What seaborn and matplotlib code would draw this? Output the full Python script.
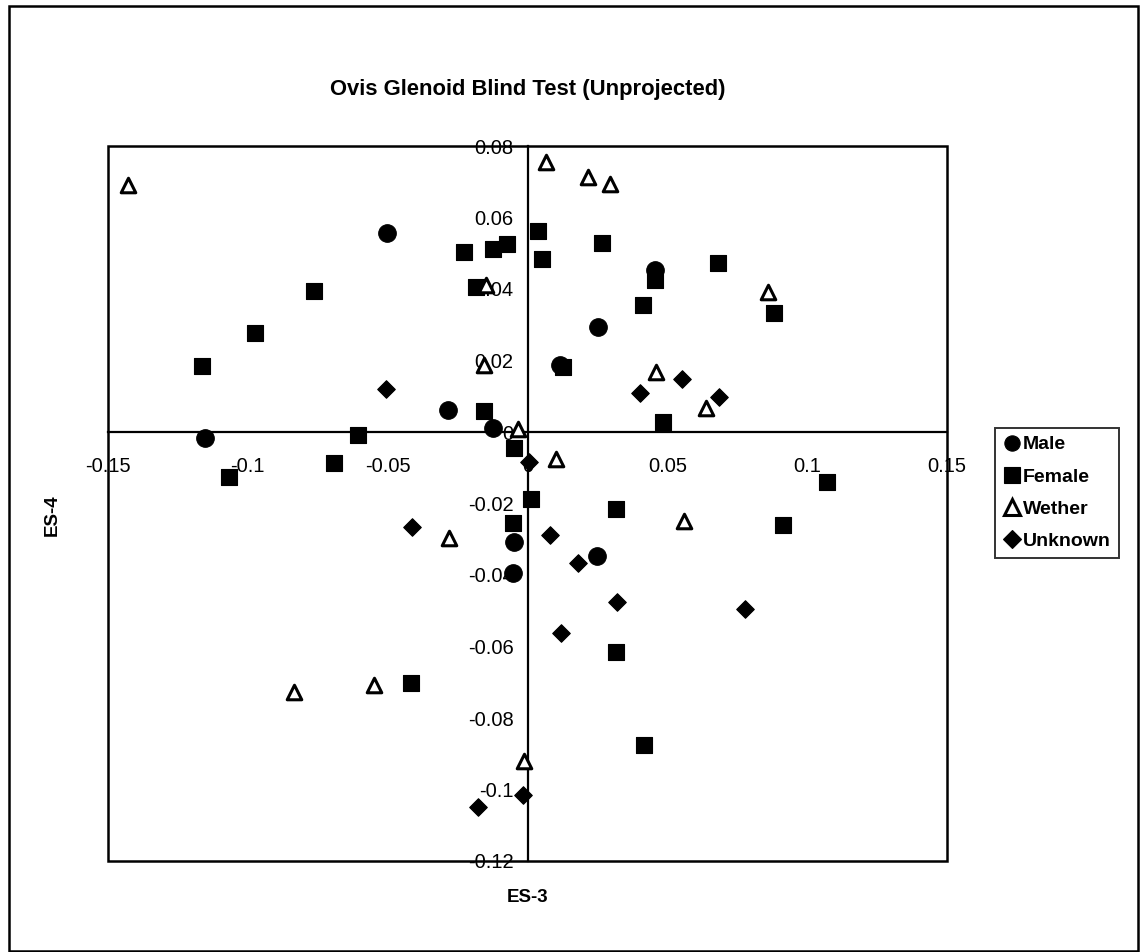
import matplotlib
matplotlib.use("Agg")
import matplotlib.pyplot as plt
from matplotlib.lines import Line2D
from matplotlib.patches import Rectangle
from matplotlib.ticker import FuncFormatter
import pandas as pd
import seaborn as sns

# values
male_x = [-0.0504, -0.0286, -0.0124, -0.1152, 0.0455, 0.0252, 0.0115, -0.0050, -0.0053, 0.0249]
male_y = [0.0556, 0.0062, 0.0010, -0.0018, 0.0453, 0.0295, 0.0187, -0.0307, -0.0395, -0.0347]

female_x = [-0.0226, -0.0124, -0.0074, 0.0037, 0.0053, -0.0763, -0.0973, -0.1164, -0.0184, -0.0154,
            -0.0047, -0.0605, 0.0268, 0.0455, 0.0682, 0.0883, 0.0413, 0.0127, 0.0485, -0.1068,
            -0.0692, 0.0013, -0.0053, -0.0415, 0.0315, 0.0913, 0.1071, 0.0318, 0.0416]
female_y = [0.0503, 0.0511, 0.0525, 0.0563, 0.0484, 0.0395, 0.0276, 0.0185, 0.0406, 0.0060,
            -0.0045, -0.0008, 0.0528, 0.0425, 0.0474, 0.0332, 0.0355, 0.0183, 0.0029, -0.0125,
            -0.0086, -0.0187, -0.0255, -0.0703, -0.0216, -0.0260, -0.0139, -0.0615, -0.0876]

wether_x = [-0.1427, -0.0148, -0.0154, -0.0035, 0.0065, 0.0216, 0.0296, 0.0861, 0.0461, 0.0640,
            -0.0280, -0.0835, -0.0548, -0.0014, 0.0103, 0.0559]
wether_y = [0.0691, 0.0411, 0.0187, 0.0008, 0.0756, 0.0714, 0.0694, 0.0392, 0.0169, 0.0066,
            -0.0297, -0.0726, -0.0708, -0.0919, -0.0076, -0.0249]

unknown_x = [-0.0507, 0.0554, 0.0404, 0.0685, 0.0007, -0.0413, -0.0017, -0.0178, 0.0079, 0.0180,
             0.0320, 0.0778, 0.0121]
unknown_y = [0.0119, 0.0147, 0.0108, 0.0097, -0.0083, -0.0267, -0.1015, -0.1048, -0.0288, -0.0367,
             -0.0475, -0.0495, -0.0563]

groups = ["Male", "Female", "Wether", "Unknown"]
x_ticks = [-0.15, -0.1, -0.05, 0, 0.05, 0.1, 0.15]
y_ticks = [-0.12, -0.1, -0.08, -0.06, -0.04, -0.02, 0, 0.02, 0.04, 0.06, 0.08]

df = pd.concat([
    pd.DataFrame({"ES-3": male_x, "ES-4": male_y, "sex": "Male"}),
    pd.DataFrame({"ES-3": female_x, "ES-4": female_y, "sex": "Female"}),
    pd.DataFrame({"ES-3": wether_x, "ES-4": wether_y, "sex": "Wether"}),
    pd.DataFrame({"ES-3": unknown_x, "ES-4": unknown_y, "sex": "Unknown"}),
])

sns.set_style("white")
plt.rcParams["font.family"] = ["Liberation Sans", "DejaVu Sans"]
plt.rcParams["text.color"] = "black"
plt.rcParams["axes.labelcolor"] = "black"

# marker style for each group: (marker, size, face)
styles = {
    "Male": ("o", 160, "black"),
    "Female": ("s", 140, "black"),
    "Wether": ("^", 110, "white"),
    "Unknown": ("D", 80, "black"),
}

fig = plt.figure(figsize=(11.41, 9.52), dpi=100)
ax = fig.add_axes([108 / 1141, 1 - 861 / 952, 839 / 1141, 715 / 952])

for g in groups:
    m, s, face = styles[g]
    sub = df[df["sex"] == g]
    sns.scatterplot(data=sub, x="ES-3", y="ES-4", marker=m, s=s, color=face,
                    edgecolor="black", linewidth=2.2 if face == "white" else 0.8,
                    ax=ax, legend=False, zorder=3, clip_on=False)

ax.set_xlim(-0.15, 0.15)
ax.set_ylim(-0.12, 0.08)
ax.set_xticks(x_ticks)
ax.set_yticks(y_ticks)
fmt = FuncFormatter(lambda v, p: "%g" % round(v, 4))
ax.xaxis.set_major_formatter(fmt)
ax.yaxis.set_major_formatter(fmt)
ax.set_xlabel("")
ax.set_ylabel("")

# Excel-style axes crossing at the origin
ax.spines["left"].set_position(("data", 0))
ax.spines["bottom"].set_position(("data", 0))
ax.spines["top"].set_visible(False)
ax.spines["right"].set_visible(False)
for sp in ["left", "bottom"]:
    ax.spines[sp].set_linewidth(1.6)
    ax.spines[sp].set_color("black")
ax.tick_params(direction="inout", length=10, width=1.4, labelsize=14.5, colors="black")
ax.tick_params(axis="x", pad=13)
ax.tick_params(axis="y", pad=5)
ax.add_patch(Rectangle((0, 0), 1, 1, transform=ax.transAxes, fill=False,
                       edgecolor="black", linewidth=1.8, clip_on=False, zorder=1))

# outer chart border
fig.patches.append(Rectangle((9 / 1141, 1 / 952), 1129 / 1141, 945 / 952,
                             transform=fig.transFigure, fill=False,
                             edgecolor="black", linewidth=1.8))

fig.text(528 / 1141, 1 - 90 / 952, "Ovis Glenoid Blind Test (Unprojected)",
         ha="center", va="center", fontsize=15.8, fontweight="bold", color="black")
fig.text(528 / 1141, 1 - 897 / 952, "ES-3", ha="center", va="center",
         fontsize=13.5, fontweight="bold", color="black")
fig.text(52 / 1141, 1 - 515 / 952, "ES-4", ha="center", va="center",
         rotation=90, fontsize=13.5, fontweight="bold", color="black")

handles = []
for g in groups:
    m, s, face = styles[g]
    handles.append(Line2D([], [], linestyle="none", marker=m, markersize=11 if m != "D" else 9,
                          markerfacecolor=face, markeredgecolor="black",
                          markeredgewidth=2.2 if face == "white" else 0.8))
leg = fig.legend(handles, groups, loc="upper left",
                 bbox_to_anchor=(995 / 1141, 1 - 428 / 952), frameon=True, fancybox=False,
                 edgecolor="black", fontsize=14, handletextpad=0.15, handlelength=0.9,
                 labelspacing=0.75, borderpad=0.4, borderaxespad=0)
leg.get_frame().set_linewidth(1.4)
for t in leg.get_texts():
    t.set_fontweight("bold")
    t.set_color("black")

fig.savefig("out.png", dpi=100)
